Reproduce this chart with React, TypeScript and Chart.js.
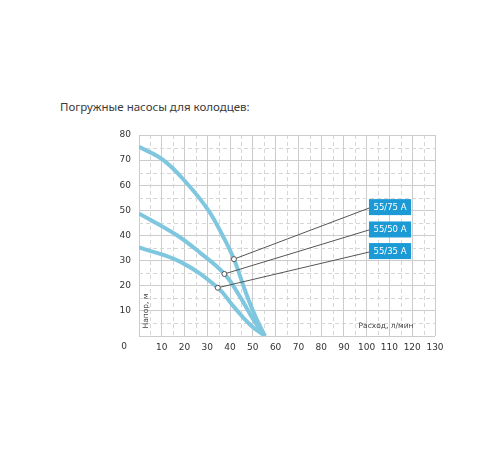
import React, { useEffect, useRef } from "react";
import { Chart, registerables } from "chart.js";

Chart.register(...registerables);

const TITLE = "Погружные насосы для колодцев:";
const X_TITLE = "Расход, л/мин";
const Y_TITLE = "Напор, м";

const pump75 = [
  { x: 0, y: 75.3 }, { x: 10.7, y: 70 }, { x: 21, y: 60.8 }, { x: 30.4, y: 50.1 },
  { x: 37, y: 39.5 }, { x: 41.7, y: 30.6 }, { x: 46.5, y: 18.3 }, { x: 51, y: 8 }, { x: 55.3, y: 0 },
];
const pump50 = [
  { x: 0, y: 48.8 }, { x: 16.5, y: 40.2 }, { x: 27, y: 33 }, { x: 37.5, y: 24.7 },
  { x: 44.4, y: 15.6 }, { x: 50.2, y: 6.6 }, { x: 55.3, y: 0 },
];
const pump35 = [
  { x: 0, y: 35.3 }, { x: 18, y: 29.6 }, { x: 34.6, y: 19.2 },
  { x: 41.4, y: 11.9 }, { x: 48.7, y: 4.6 }, { x: 55.3, y: 0 },
];

const labels = ["55/75 A", "55/50 A", "55/35 A"];
const markers = [
  { x: 41.7, y: 30.6 },
  { x: 37.5, y: 24.7 },
  { x: 34.6, y: 19.2 },
];
const boxX = [101, 119.5];
const boxY = [51.3, 42.4, 33.8];
const leaderEndY = [50.9, 42.2, 33.4];

const CURVE = "#7fc7df";
const BOX = "#1b9ad6";
const FONT = "'DejaVu Sans', sans-serif";

const overlay = {
  id: "overlay",
  beforeDatasetsDraw(chart: any) {
    const { ctx, chartArea, scales } = chart;
    const xs = scales.x, ys = scales.y;
    ctx.save();
    ctx.strokeStyle = "#d6d6d6";
    ctx.lineWidth = 1;
    ctx.setLineDash([4, 3]);
    for (let v = 5; v < 130; v += 10) {
      const px = Math.round(xs.getPixelForValue(v)) + 0.5;
      ctx.beginPath();
      ctx.moveTo(px, chartArea.top);
      ctx.lineTo(px, chartArea.bottom);
      ctx.stroke();
    }
    for (let v = 5; v < 80; v += 10) {
      const py = Math.round(ys.getPixelForValue(v)) + 0.5;
      ctx.beginPath();
      ctx.moveTo(chartArea.left, py);
      ctx.lineTo(chartArea.right, py);
      ctx.stroke();
    }
    ctx.restore();
  },
  afterDatasetsDraw(chart: any) {
    const { ctx, chartArea, scales } = chart;
    const xs = scales.x, ys = scales.y;
    ctx.save();
    labels.forEach((t, i) => {
      const x0 = xs.getPixelForValue(boxX[0]);
      const x1 = xs.getPixelForValue(boxX[1]);
      const cy = ys.getPixelForValue(boxY[i]);
      ctx.fillStyle = BOX;
      ctx.fillRect(x0, cy - 8, x1 - x0, 16);
      ctx.fillStyle = "#ffffff";
      ctx.font = `8.5px ${FONT}`;
      ctx.textAlign = "center";
      ctx.textBaseline = "middle";
      ctx.fillText(t, (x0 + x1) / 2, cy + 0.5);
    });
    ctx.fillStyle = "#444";
    ctx.font = `7.5px ${FONT}`;
    ctx.textAlign = "center";
    ctx.textBaseline = "middle";
    ctx.fillText(X_TITLE, chartArea.left + 247, chartArea.bottom - 10);
    ctx.save();
    ctx.translate(chartArea.left + 7, chartArea.bottom - 25);
    ctx.rotate(-Math.PI / 2);
    ctx.fillText(Y_TITLE, 0, 0);
    ctx.restore();
    ctx.fillStyle = "#333";
    ctx.font = `9px ${FONT}`;
    ctx.fillText("0", chartArea.left - 15, chartArea.bottom + 11);
    ctx.restore();
  },
};

export default function App() {
  const ref = useRef<HTMLCanvasElement>(null);
  useEffect(() => {
    const leaderSets = markers.map((m, i) => ({
      type: "line" as const,
      data: [m, { x: boxX[0], y: leaderEndY[i] }],
      borderColor: "#555",
      borderWidth: 1,
      pointRadius: 0,
      tension: 0,
      order: 2,
    }));
    const curve = (d: any) => ({
      type: "line" as const,
      data: d,
      borderColor: CURVE,
      borderWidth: 4,
      pointRadius: 0,
      tension: 0.4,
      order: 3,
    });
    const chart = new Chart(ref.current!, {
      type: "line",
      data: {
        datasets: [
          curve(pump75),
          curve(pump50),
          curve(pump35),
          ...leaderSets,
          {
            type: "scatter",
            data: markers,
            pointRadius: 2.5,
            pointBackgroundColor: "#ffffff",
            pointBorderColor: "#555",
            pointBorderWidth: 1,
            order: 1,
          } as any,
        ],
      },
      options: {
        animation: false,
        responsive: false,
        layout: { padding: { left: 100, right: 65, top: 135, bottom: 96 } },
        plugins: { legend: { display: false }, tooltip: { enabled: false }, title: { display: false } },
        scales: {
          x: {
            type: "linear",
            min: 0,
            max: 130,
            ticks: {
              stepSize: 10,
              color: "#333",
              font: { size: 9, family: FONT },
              padding: 6,
              maxRotation: 0,
              callback: (v: any) => (v === 0 ? "" : String(v)),
            },
            grid: { color: "#cccccc", drawTicks: false },
            border: { display: false },
            afterFit: (s: any) => { s.height = 18; },
          },
          y: {
            type: "linear",
            min: 0,
            max: 80,
            ticks: {
              stepSize: 10,
              color: "#333",
              font: { size: 9, family: FONT },
              padding: 8,
              callback: (v: any) => (v === 0 ? "" : String(v)),
            },
            grid: { color: "#cccccc", drawTicks: false },
            border: { display: false },
            afterFit: (s: any) => { s.width = 39; },
          },
        },
      },
      plugins: [overlay],
    });
    return () => chart.destroy();
  }, []);
  return (
    <div style={{ position: "fixed", left: 0, top: 0, width: 500, height: 450, background: "#fff" }}>
      <div
        style={{
          position: "absolute",
          left: 60,
          top: 99,
          fontFamily: "'Noto Sans', sans-serif",
          fontSize: 11.5,
          lineHeight: "16px",
          color: "#3a3a3a",
          whiteSpace: "nowrap",
        }}
      >
        {TITLE}
      </div>
      <canvas ref={ref} width={500} height={450} style={{ position: "absolute", left: 0, top: 0 }} />
    </div>
  );
}
